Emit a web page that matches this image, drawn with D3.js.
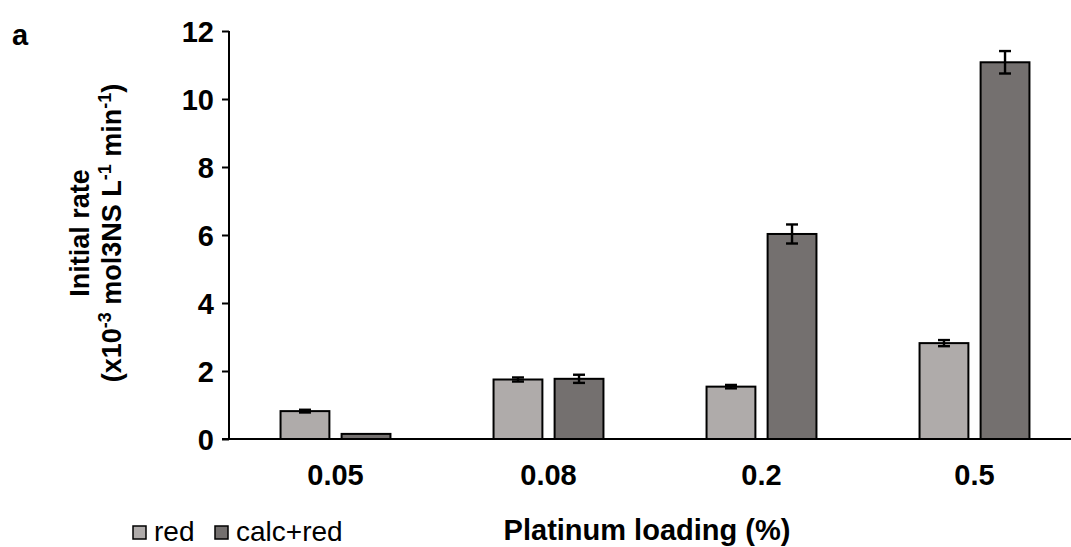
<!DOCTYPE html>
<html>
<head>
<meta charset="utf-8">
<script src="https://cdn.jsdelivr.net/npm/d3@7"></script>
<style>
    body { margin: 0; background: #fff; }
    svg { display: block; font-family: "Liberation Sans", Arial, sans-serif; }
</style>
</head>
<body>
<svg id="chart" width="1071" height="547"></svg>
<script>

var categories = ["0.05", "0.08", "0.2", "0.5"];
var seriesNames = ["red", "calc+red"];
var redValues = [0.82, 1.75, 1.54, 2.82];
var redErrors = [0.04, 0.06, 0.05, 0.09];
var calcValues = [0.15, 1.77, 6.03, 11.08];
var calcErrors = [0, 0.12, 0.28, 0.33];
var yTicks = [0, 2, 4, 6, 8, 10, 12];

var colors = ["#afabaa", "#74706f"];

var svg = d3.select("#chart");

var plotLeft = 229, plotRight = 1081, plotTop = 31, plotBottom = 439;

var x0 = d3.scaleBand()
    .domain(categories)
    .range([plotLeft, plotRight])
    .paddingInner(0.484)
    .paddingOuter(0.242);

var x1 = d3.scaleBand()
    .domain(seriesNames)
    .range([0, x0.bandwidth()])
    .paddingInner(0.2);

var y = d3.scaleLinear()
    .domain([0, 12])
    .range([plotBottom, plotTop]);

// one row per category, one entry per series
var rows = categories.map(function (c, i) {
    return [
        {cat: c, name: seriesNames[0], value: redValues[i], err: redErrors[i], color: colors[0]},
        {cat: c, name: seriesNames[1], value: calcValues[i], err: calcErrors[i], color: colors[1]}
    ];
});

// y axis
var yAxis = svg.append("g")
    .attr("transform", "translate(" + plotLeft + ",0)")
    .call(d3.axisLeft(y).tickValues(yTicks).tickSize(7).tickPadding(8));

yAxis.select(".domain").attr("stroke", "#000").attr("stroke-width", 2)
    .attr("d", "M0," + plotTop + "V" + plotBottom);
yAxis.selectAll(".tick line").attr("stroke", "#000").attr("stroke-width", 2);
yAxis.selectAll(".tick text")
    .attr("fill", "#000")
    .style("font-size", "29px")
    .style("font-weight", "bold")
    .attr("dy", "0.36em");

// bars
var groups = svg.selectAll("g.cat")
    .data(rows)
    .enter().append("g")
    .attr("class", "cat")
    .attr("transform", function (d, i) { return "translate(" + x0(categories[i]) + ",0)"; });

groups.selectAll("rect")
    .data(function (d) { return d; })
    .enter().append("rect")
    .attr("x", function (d) { return x1(d.name); })
    .attr("y", function (d) { return y(d.value); })
    .attr("width", x1.bandwidth())
    .attr("height", function (d) { return y(0) - y(d.value); })
    .attr("fill", function (d) { return d.color; })
    .attr("stroke", "#000")
    .attr("stroke-width", 2);

// error bars
var cx = function (d) { return x1(d.name) + x1.bandwidth() / 2; };

var err = groups.selectAll("g.err")
    .data(function (d) { return d.filter(function (e) { return e.err > 0; }); })
    .enter().append("g")
    .attr("class", "err")
    .attr("stroke", "#000")
    .attr("stroke-width", 2.4);

err.append("line")
    .attr("x1", cx).attr("x2", cx)
    .attr("y1", function (d) { return y(d.value + d.err); })
    .attr("y2", function (d) { return y(d.value - d.err); });

err.selectAll("line.cap")
    .data(function (d) { return [d.value + d.err, d.value - d.err].map(function (v) { return {d: d, v: v}; }); })
    .enter().append("line")
    .attr("class", "cap")
    .attr("x1", function (c) { return cx(c.d) - 6; })
    .attr("x2", function (c) { return cx(c.d) + 6; })
    .attr("y1", function (c) { return y(c.v); })
    .attr("y2", function (c) { return y(c.v); });

// x axis
svg.append("line")
    .attr("x1", plotLeft - 7).attr("x2", 1071)
    .attr("y1", y(0)).attr("y2", y(0))
    .attr("stroke", "#000")
    .attr("stroke-width", 2);

svg.selectAll("text.xlab")
    .data(categories)
    .enter().append("text")
    .attr("class", "xlab")
    .attr("x", function (d) { return x0(d) + x0.bandwidth() / 2; })
    .attr("y", 485)
    .attr("text-anchor", "middle")
    .style("font-size", "29px")
    .style("font-weight", "bold")
    .text(function (d) { return d; });

// axis titles
svg.append("text")
    .attr("x", 647)
    .attr("y", 540)
    .attr("text-anchor", "middle")
    .style("font-size", "29px")
    .style("font-weight", "bold")
    .text("Platinum loading (%)");

var yl = svg.append("text")
    .attr("transform", "translate(89,233) rotate(-90)")
    .attr("text-anchor", "middle")
    .style("font-size", "27px")
    .style("font-weight", "bold");

yl.append("tspan").attr("x", 0).attr("y", 0).text("Initial rate");

var parts = [["(x10", false], ["-3", true], [" mol3NS L", false], ["-1", true], [" min", false], ["-1", true], [")", false]];
var line2 = yl.append("tspan").attr("x", 0).attr("y", 32);
parts.forEach(function (p, i) {
    var t = line2.append("tspan").text(p[0]);
    if (p[1]) {
        t.style("font-size", "18px").attr("dy", -10);
    } else if (i > 0) {
        t.attr("dy", 10);
    }
});

// panel letter
svg.append("text")
    .attr("x", 12)
    .attr("y", 45)
    .style("font-size", "29px")
    .style("font-weight", "bold")
    .text("a");

// legend
var legend = svg.selectAll("g.legend")
    .data(seriesNames)
    .enter().append("g")
    .attr("class", "legend")
    .attr("transform", function (d, i) { return "translate(" + [133, 215][i] + ",526)"; });

legend.append("rect")
    .attr("width", 13)
    .attr("height", 13)
    .attr("fill", function (d, i) { return colors[i]; })
    .attr("stroke", "#000")
    .attr("stroke-width", 1.5);

legend.append("text")
    .attr("x", 21)
    .attr("y", 15)
    .style("font-size", "28px")
    .text(function (d) { return d; });

</script>
</body>
</html>
